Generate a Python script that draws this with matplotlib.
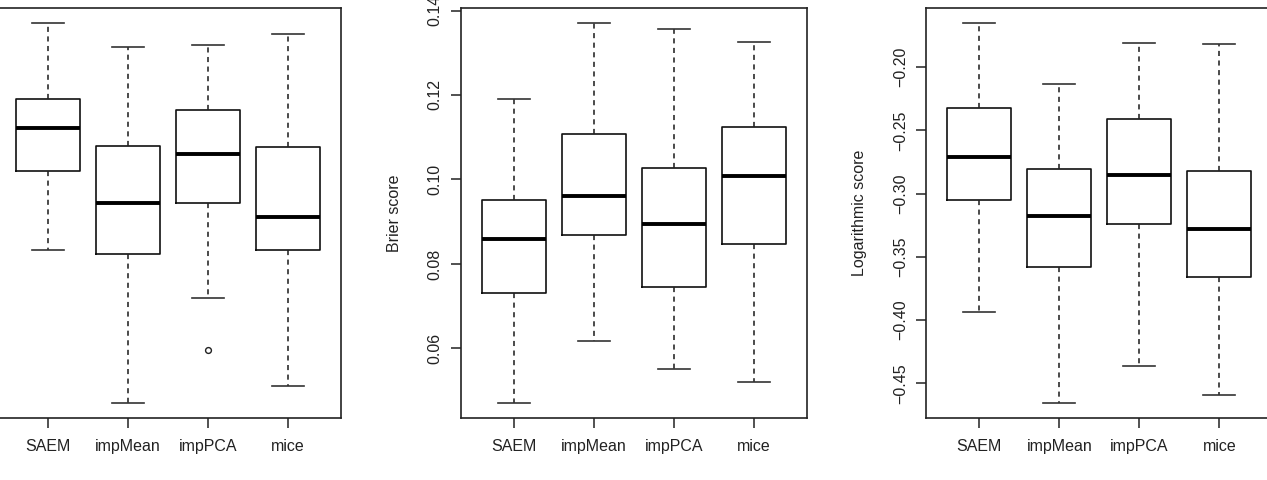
import numpy as np
import matplotlib
matplotlib.use("Agg")
import matplotlib.pyplot as plt

plt.rcParams['font.family'] = ['Liberation Sans', 'DejaVu Sans']

methods = ['SAEM', 'impMean', 'impPCA', 'mice']

# panel 1 (its y axis is cropped out of the picture)
p1_whishi = [0.8500, 0.8437, 0.8442, 0.8471]
p1_q3 = [0.8300, 0.8176, 0.8271, 0.8174]
p1_med = [0.8224, 0.8026, 0.8155, 0.7989]
p1_q1 = [0.8111, 0.7892, 0.8026, 0.7903]
p1_whislo = [0.7903, 0.7500, 0.7776, 0.7545]
p1_fliers = [[], [], [0.7639], []]

# panel 2 : Brier score
p2_whishi = [0.1191, 0.1370, 0.1356, 0.1326]
p2_q3 = [0.0952, 0.1108, 0.1026, 0.1125]
p2_med = [0.0859, 0.0961, 0.0895, 0.1009]
p2_q1 = [0.0732, 0.0868, 0.0745, 0.0848]
p2_whislo = [0.0471, 0.0617, 0.0552, 0.0520]
p2_fliers = [[], [], [], []]
p2_ticks = [0.06, 0.08, 0.10, 0.12, 0.14]

# panel 3 : Logarithmic score
p3_whishi = [-0.1653, -0.2132, -0.1811, -0.1816]
p3_q3 = [-0.2326, -0.2803, -0.2411, -0.2819]
p3_med = [-0.2713, -0.3174, -0.2850, -0.3281]
p3_q1 = [-0.3052, -0.3581, -0.3239, -0.3660]
p3_whislo = [-0.3937, -0.4653, -0.4363, -0.4590]
p3_fliers = [[], [], [], []]
p3_ticks = [-0.45, -0.40, -0.35, -0.30, -0.25, -0.20]


def make_stats(whishi, q3, med, q1, whislo, fliers):
    stats = []
    for i in range(len(methods)):
        stats.append({'label': methods[i], 'whishi': whishi[i], 'q3': q3[i],
                      'med': med[i], 'q1': q1[i], 'whislo': whislo[i],
                      'fliers': fliers[i]})
    return stats


def draw_panel(ax, stats, ylabel=None, yticks=None):
    ax.bxp(stats, widths=0.8, showfliers=True,
           boxprops=dict(color='#111111', linewidth=1.2),
           medianprops=dict(color='black', linewidth=2.8, solid_capstyle='butt'),
           whiskerprops=dict(color='#222222', linewidth=1.15, linestyle=(0, (3.2, 2.8))),
           capprops=dict(color='#333333', linewidth=1.2),
           capwidths=0.4,
           flierprops=dict(marker='o', markersize=4.2, markerfacecolor='none',
                           markeredgecolor='#222222', markeredgewidth=1.0))
    lo = min([s['whislo'] for s in stats] + [f for s in stats for f in s['fliers']])
    hi = max(s['whishi'] for s in stats)
    rng = hi - lo
    ax.set_ylim(lo - 0.04 * rng, hi + 0.04 * rng)
    ax.set_xlim(0.34, 4.66)
    for sp in ax.spines.values():
        sp.set_color('#222222')
        sp.set_linewidth(1.2)
    ax.tick_params(axis='x', length=7, width=1.1, color='#222222', pad=8,
                   labelsize=11.5, labelcolor='#222222')
    ax.tick_params(axis='y', length=7, width=1.1, color='#222222', pad=6,
                   labelsize=11.5, labelcolor='#222222')
    if yticks is not None:
        ax.set_yticks(yticks)
        ax.set_yticklabels([('%.2f' % t).replace('-', '\u2212') for t in yticks],
                           rotation=90, va='center')
    else:
        ax.tick_params(axis='y', left=False, labelleft=False)
    if ylabel is not None:
        ax.set_ylabel(ylabel, fontsize=11.5, color='#222222')
        ax.yaxis.set_label_coords(-0.170, 0.5)


fig = plt.figure(figsize=(12.67, 4.8), dpi=100)
h = 410 / 480
bottom = 1 - 418 / 480
w = 346 / 1267
ax1 = fig.add_axes([-5 / 1267, bottom, w, h])
ax2 = fig.add_axes([460.7 / 1267, bottom, w, h])
ax3 = fig.add_axes([926.3 / 1267, bottom, w, h])

draw_panel(ax1, make_stats(p1_whishi, p1_q3, p1_med, p1_q1, p1_whislo, p1_fliers))
draw_panel(ax2, make_stats(p2_whishi, p2_q3, p2_med, p2_q1, p2_whislo, p2_fliers),
           ylabel='Brier score', yticks=p2_ticks)
draw_panel(ax3, make_stats(p3_whishi, p3_q3, p3_med, p3_q1, p3_whislo, p3_fliers),
           ylabel='Logarithmic score', yticks=p3_ticks)

fig.savefig('out.png', dpi=100)
